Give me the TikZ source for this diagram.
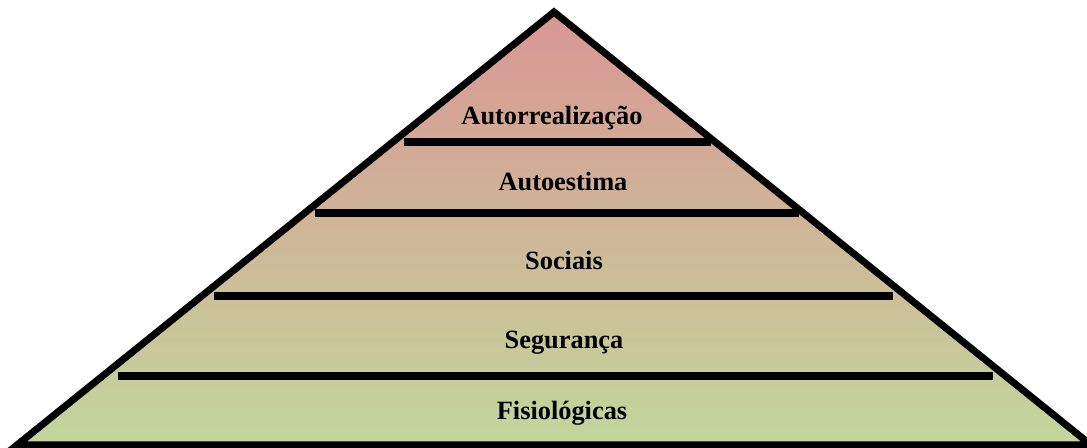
\documentclass[tikz,border=0pt]{standalone}
\usepackage{fontspec}
\setmainfont{Liberation Serif}
\usepackage{tikz}
\definecolor{topo}{HTML}{D99694}
\definecolor{base}{HTML}{C3D69B}
\tikzset{nivel/.style={anchor=base,font=\fontsize{15}{18}\selectfont\bfseries}}

\begin{document}
\begin{tikzpicture}[line cap=butt,line join=miter,x=1.0cm,y=1.0cm]
\useasboundingbox (0,0) rectangle (21.74,8.96);
\shade[top color=topo,bottom color=base,draw=black,line width=4pt] (11.08,8.72) -- (0.34,0.06) -- (21.82,0.06) -- cycle;
\draw[line width=4pt] (8.08,6.12) -- (14.22,6.12);
\draw[line width=4pt] (6.30,4.70) -- (15.98,4.70);
\draw[line width=4pt] (4.28,3.04) -- (17.86,3.04);
\draw[line width=4pt] (2.36,1.44) -- (19.86,1.44);
\node[nivel] (autorrealizacao) at (11.04,6.46) {Autorrealização};
\node[nivel] (autoestima) at (11.26,5.14) {Autoestima};
\node[nivel] (sociais) at (11.28,3.56) {Sociais};
\node[nivel] (seguranca) at (11.28,1.98) {Segurança};
\node[nivel] (fisiologicas) at (11.24,0.56) {Fisiológicas};
\end{tikzpicture}
\end{document}
